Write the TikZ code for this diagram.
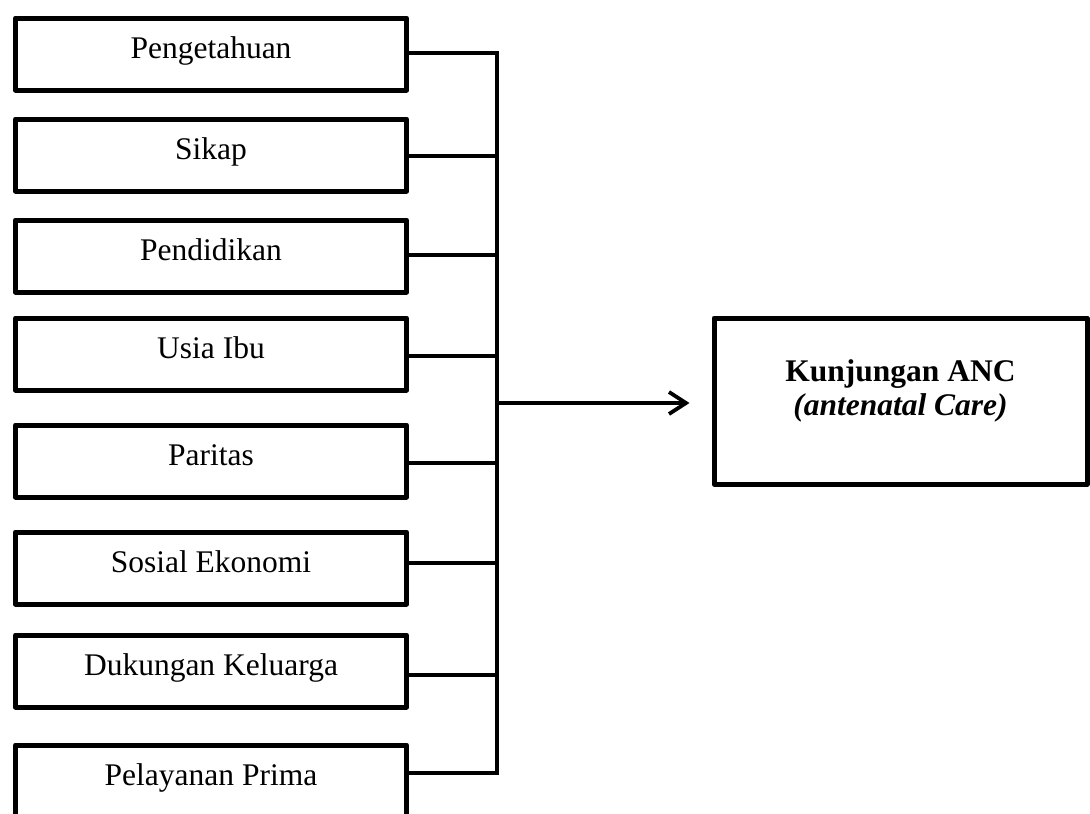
\documentclass[tikz,border=0pt]{standalone}
\usepackage{fontspec}
\setmainfont{Liberation Serif}
\usetikzlibrary{arrows.meta}
\begin{document}
\begin{tikzpicture}[x=1pt,y=-1pt,
  factor/.style={draw, line width=5pt, line join=round, minimum width=391pt,
    inner sep=0pt, text height=40pt, text depth=32pt, anchor=north,
    font=\fontsize{31.5}{34}\selectfont},
  outcome/.style={draw, line width=5pt, line join=round, minimum width=373pt,
    inner sep=0pt, text height=63pt, text depth=103pt, anchor=north,
    font=\fontsize{31.5}{34}\selectfont},
  conn/.style={line width=3.8pt},
  arr/.style={line width=3.8pt, -{Straight Barb[length=17pt,width=22pt,line width=3.8pt]}}
]
\useasboundingbox (0,0) rectangle (1090,814);
\clip (0,0) rectangle (1090,814);
\fill[white] (0,0) rectangle (1090,814);

\node[factor] (b1) at (211,15.5)  {Pengetahuan};
\node[factor] (b2) at (211,116.5) {Sikap};
\node[factor] (b3) at (211,217.5) {Pendidikan};
\node[factor] (b4) at (211,315.5) {Usia Ibu};
\node[factor] (b5) at (211,422.5) {Paritas};
\node[factor] (b6) at (211,529.5) {Sosial Ekonomi};
\node[factor] (b7) at (211,632.5) {Dukungan Keluarga};
\node[factor, text depth=45pt] (b8) at (211,742.5) {Pelayanan Prima};

\node[outcome] (anc) at (900.5,315.5)
  {\vtop{\halign{\hfil#\hfil\cr\bfseries Kunjungan ANC\cr\bfseries\itshape (antenatal Care)\cr}}};

\coordinate (trunk) at (497,50);

\draw[conn] ([yshift=1pt]b1.east) -- ([yshift=1pt]b1.east -| trunk);
\draw[conn] ([yshift=-1pt]b2.east) -- ([yshift=-1pt]b2.east -| trunk);
\draw[conn] ([yshift=1pt]b3.east) -- ([yshift=1pt]b3.east -| trunk);
\draw[conn] ([yshift=-2pt]b4.east) -- ([yshift=-2pt]b4.east -| trunk);
\draw[conn] ([yshift=-2pt]b5.east) -- ([yshift=-2pt]b5.east -| trunk);
\draw[conn] ([yshift=5pt]b6.east) -- ([yshift=5pt]b6.east -| trunk);
\draw[conn] ([yshift=-4pt]b7.east) -- ([yshift=-4pt]b7.east -| trunk);
\draw[conn] (b8.north east |- 0,773) -- (trunk |- 0,773);
\draw[conn, line cap=rect] ([yshift=1pt]b1.east -| trunk) -- (trunk |- 0,773);

\draw[arr] ([yshift=-2pt]anc.west -| trunk) -- ([yshift=-2pt,xshift=-22pt]anc.west);
\end{tikzpicture}
\end{document}
